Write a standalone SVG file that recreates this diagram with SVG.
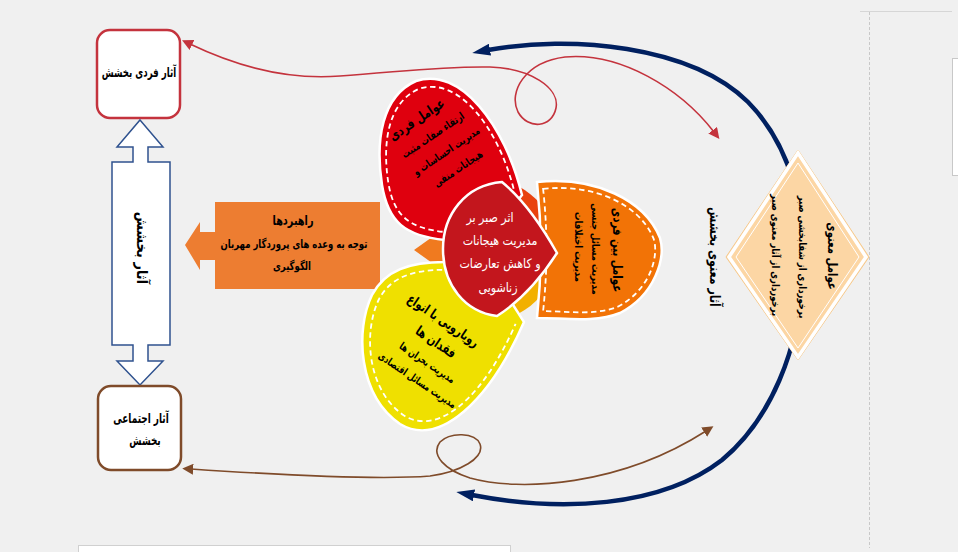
<svg xmlns="http://www.w3.org/2000/svg" width="958" height="552" viewBox="0 0 958 552">
<defs>
<style>
text { font-family: "DejaVu Sans", "Noto Sans", sans-serif; fill: #000; text-anchor: middle; }
.b { font-weight: bold; }
.w { fill: #fff; }
.dash { fill: none; stroke: #fff; stroke-width: 2; stroke-dasharray: 6 4; }
.petal { stroke: #fff; stroke-width: 2.5; }
.box { fill: #fff; stroke-width: 2.5; }
</style>
<marker id="mRed" viewBox="0 0 10 10" refX="2" refY="5" markerWidth="11" markerHeight="11" markerUnits="userSpaceOnUse" orient="auto-start-reverse"><path d="M0,0 L10,5 L0,10 z" fill="#c4333d"/></marker>
<marker id="mBrown" viewBox="0 0 10 10" refX="2" refY="5" markerWidth="11" markerHeight="11" markerUnits="userSpaceOnUse" orient="auto-start-reverse"><path d="M0,0 L10,5 L0,10 z" fill="#7f4b2a"/></marker>
<marker id="mBlue" viewBox="0 0 18 12" refX="2" refY="6" markerWidth="18" markerHeight="12" markerUnits="userSpaceOnUse" orient="auto-start-reverse"><path d="M0,0 L18,6 L0,12 z" fill="#002060"/></marker>
</defs>

<!-- page background and window chrome -->
<rect x="0" y="0" width="958" height="552" fill="#f0f0f0"/>
<line x1="869.5" y1="12" x2="869.5" y2="548" stroke="#c8c8c8" stroke-dasharray="3 2"/>
<line x1="860" y1="11.5" x2="952" y2="11.5" stroke="#d6d6d6"/>
<rect x="952.5" y="58.5" width="6" height="117" fill="#fff" stroke="#c8c8c8"/>
<rect x="78.5" y="545.5" width="432" height="8" fill="#fff" stroke="#d0d0d0"/>

<!-- connectors -->
<g id="connectors" fill="none">
  <path d="M488,50 C570,35 690,45 748,102 C792,147 805,210 803,272 C800,350 770,420 722,460 C660,508 560,512 472,495" stroke="#002060" stroke-width="4.5" marker-start="url(#mBlue)" marker-end="url(#mBlue)"/>
  <path d="M190,44 C240,68 290,80 340,76 C400,72 440,66 490,67 C530,68 560,88 556,108 C552,128 528,130 518,112 C508,92 525,62 565,57 C620,52 680,88 714,132" stroke="#c4333d" stroke-width="1.6" marker-start="url(#mRed)" marker-end="url(#mRed)"/>
  <path d="M191,469 C280,475 380,480 430,476 C460,472 485,458 480,444 C475,432 450,432 440,442 C430,455 445,470 470,478 C520,492 620,486 706,431" stroke="#7f4b2a" stroke-width="1.6" marker-start="url(#mBrown)" marker-end="url(#mBrown)"/>
</g>

<!-- individual effects -->
<g id="node-individual">
  <rect class="box" x="97" y="30" width="83" height="88" rx="13" stroke="#c4333d"/>
  <text class="b" font-size="13.5" transform="translate(139,77) scale(0.64,1)">آثار فردی بخشش</text>
</g>

<!-- double arrow -->
<g id="node-effects">
  <polygon points="140,120 163,147 148,147 148,162 170,162 170,345 148,345 148,361 163,361 140,385 117,361 133,361 133,345 112,345 112,162 133,162 133,147 117,147" fill="#fff" stroke="#2f528f" stroke-width="1.5"/>
  <text class="b" font-size="15" transform="translate(142,248) rotate(90) scale(0.87,1)" y="5">آثار بخشش</text>
</g>

<!-- social effects -->
<g id="node-social">
  <rect class="box" x="98" y="386" width="83" height="84" rx="13" stroke="#7f4b2a"/>
  <text class="b" font-size="13.5" transform="translate(141,423) scale(0.66,1)">آثار اجتماعی</text>
  <text class="b" font-size="13.5" transform="translate(145,445) scale(0.66,1)">بخشش</text>
</g>

<!-- strategies -->
<g id="node-strategies">
  <polygon points="215,202 380,202 380,289 215,289 215,260 200,260 200,270 185,245 200,222 200,232 215,232" fill="#ed7d31"/>
  <text class="b" font-size="13.5" transform="translate(293,225) scale(0.72,1)">راهبردها</text>
  <text class="b" font-size="11.5" transform="translate(294,248) scale(0.74,1)">توجه به وعده های پروردگار مهربان</text>
  <text class="b" font-size="11.5" transform="translate(292,270) scale(0.74,1)">الگوگیری</text>
</g>

<!-- central cluster background -->
<g id="node-cluster">
  <path d="M485,250 L485,178 A72,72 0 0 1 557,250 Z" fill="#e9420e"/>
  <path d="M485,250 L557,250 A72,72 0 0 1 485,322 Z" fill="#f2b000"/>
  <path d="M485,250 L485,312 L442,270 L414,250 L442,230 L485,188 Z" fill="#f07a1f"/>
</g>

<g id="node-individual-factors">
  <path class="petal" d="M482,246 L445,240 C405,236 388,222 382,185 C375,140 382,96 416,81 C460,66 505,125 522,195 Z" fill="#df000e"/>
  <path class="dash" transform="translate(445,160) scale(0.9) translate(-445,-160)" d="M482,246 L445,240 C405,236 388,222 382,185 C375,140 382,96 416,81 C460,66 505,125 522,195"/>
  <g transform="translate(417,120) rotate(-34) scale(0.76,1)">
    <text class="b" x="0" y="4" font-size="13.5">عوامل فردی</text>
    <text class="b" x="6" y="25" font-size="10.5">ارتقاء صفات مثبت</text>
    <text class="b" x="9" y="46" font-size="10.5">مدیریت احساسات و</text>
    <text class="b" x="9" y="67" font-size="10.5">هیجانات منفی</text>
  </g>
</g>

<g id="node-interpersonal">
  <path class="petal" d="M537,182 C595,176 645,200 660,238 C666,258 655,295 620,313 C595,323 565,318 537,318 C542,272 542,228 537,182 Z" fill="#f27306"/>
  <path class="dash" transform="translate(598,250) scale(0.9) translate(-598,-250)" d="M537,182 C595,176 645,200 660,238 C666,258 655,295 620,313 C595,323 565,318 537,318 C542,272 542,228 537,182 Z"/>
  <text class="b" font-size="13.5" transform="translate(617,250) rotate(90) scale(0.76,1)" y="4">عوامل بین فردی</text>
  <text class="b" font-size="10.5" transform="translate(596,249) rotate(90) scale(0.81,1)" y="4">مدیریت مسائل جنسی</text>
  <text class="b" font-size="10.5" transform="translate(579,247) rotate(90) scale(0.81,1)" y="4">مدیریت اختلافات</text>
</g>

<g id="node-loss">
  <path class="petal" d="M482,256 L445,262 C410,262 385,270 372,295 C355,330 358,395 400,424 C440,448 490,400 524,322 Z" fill="#efe000"/>
  <path class="dash" transform="translate(440,340) scale(0.9) translate(-440,-340)" d="M482,256 L445,262 C410,262 385,270 372,295 C355,330 358,395 400,424 C440,448 490,400 524,322"/>
  <g transform="translate(443,321) rotate(34) scale(0.74,1)">
    <text class="b" x="0" y="4" font-size="13.5">رویارویی با انواع</text>
    <text class="b" x="8" y="26" font-size="13.5">فقدان ها</text>
    <text class="b" x="14" y="47" font-size="10.5">مدیریت بحران ها</text>
    <text class="b" x="16" y="67" font-size="10.5">مدیریت مسائل اقتصادی</text>
  </g>
</g>

<g id="node-center">
  <path d="M557,253 Q530,205 502,182 C465,185 443,215 443,249 C443,285 465,312 497,316 Q530,295 557,253 Z" fill="#c3161d" stroke="#fff" stroke-width="2.5"/>
  <text class="w" font-size="13" transform="translate(490,222) scale(0.85,1)">اثر صبر بر</text>
  <text class="w" font-size="13" transform="translate(500,245) scale(0.85,1)">مدیریت هیجانات</text>
  <text class="w" font-size="13" transform="translate(500,268) scale(0.85,1)">و کاهش تعارضات</text>
  <text class="w" font-size="13" transform="translate(498,292) scale(0.85,1)">زناشویی</text>
</g>

<!-- spiritual label -->
<g id="node-spiritual-label">
  <text class="b" font-size="14" transform="translate(715,257) rotate(90) scale(0.79,1)" y="5">آثار معنوی بخشش</text>
</g>

<!-- spiritual factors diamond -->
<g id="node-spiritual">
  <polygon points="798,150 869,257 798,360 726,257" fill="#fcd6a4" stroke="#f6c98c" stroke-width="1"/>
  <polygon points="798,153 866,257 798,357 729,257" fill="#fcd6a4" stroke="#fff" stroke-width="3.5"/>
  <polygon points="798,163 859,257 798,348 736,257" fill="none" stroke="#fff" stroke-width="1"/>
  <text class="b" font-size="13" transform="translate(832,256) rotate(90) scale(0.78,1)" y="4">عوامل معنوی</text>
  <text class="b" font-size="10.5" transform="translate(803,257) rotate(90) scale(0.81,1)" y="4">برخورداری از شفابخشی صبر</text>
  <text class="b" font-size="10.5" transform="translate(776,255) rotate(90) scale(0.81,1)" y="4">برخورداری از آثار معنوی صبر</text>
</g>
</svg>
